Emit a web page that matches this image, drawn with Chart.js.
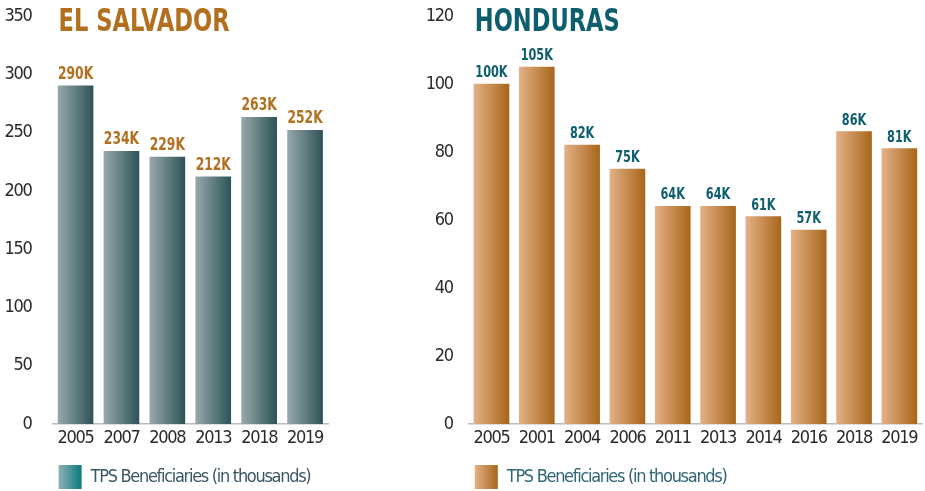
<!DOCTYPE html>
<html>
<head>
<meta charset="utf-8">
<script src="https://cdn.jsdelivr.net/npm/chart.js@4.4.1/dist/chart.umd.min.js"></script>
<style>
  html, body { margin: 0; padding: 0; background: #fff; }
  body { width: 925px; height: 491px; position: relative; overflow: hidden; }
  .box { position: absolute; top: 0; height: 499px; }
  #elBox { left: 0; width: 345px; }
  #hnBox { left: 420px; width: 505px; }
</style>
</head>
<body>
<div class="box" id="elBox"><canvas id="elChart" width="345" height="499"></canvas></div>
<div class="box" id="hnBox"><canvas id="hnChart" width="505" height="499"></canvas></div>
<script>
// El Salvador
const elTitle = "EL SALVADOR";
const elYears = ["2005", "2007", "2008", "2013", "2018", "2019"];
const elValues = [290, 234, 229, 212, 263, 252];
const elMax = 350;
const elStep = 50;

// Honduras
const hnTitle = "HONDURAS";
const hnYears = ["2005", "2001", "2004", "2006", "2011", "2013", "2014", "2016", "2018", "2019"];
const hnValues = [100, 105, 82, 75, 64, 64, 61, 57, 86, 81];
const hnMax = 120;
const hnStep = 20;

const seriesLabel = "TPS Beneficiaries (in thousands)";

const COND = "'DejaVu Sans Condensed', 'Liberation Sans', sans-serif";
const BAR_W = 35;
const TIGHT = "-1.3px";

function barFill(light, dark) {
  return function (c) {
    const chart = c.chart;
    if (!chart.chartArea || c.dataIndex === undefined) return dark;
    const x = chart.scales.x.getPixelForValue(c.dataIndex);
    const g = chart.ctx.createLinearGradient(x - BAR_W / 2, 0, x + BAR_W / 2, 0);
    g.addColorStop(0, light);
    g.addColorStop(1, dark);
    return g;
  };
}

function legendLabels(light, dark, textColor) {
  return function (chart) {
    const left = (chart.chartArea ? chart.chartArea.left : 50) + 6;
    const g = chart.ctx.createLinearGradient(left, 0, left + 23, 0);
    g.addColorStop(0, light);
    g.addColorStop(1, dark);
    return [{
      text: chart.data.datasets[0].label,
      fillStyle: g,
      strokeStyle: "rgba(0,0,0,0)",
      lineWidth: 0,
      fontColor: textColor,
      hidden: false,
      datasetIndex: 0
    }];
  };
}

// tighter letter spacing for ticks and legend (the source uses a condensed face)
const tighten = {
  id: "tighten",
  beforeLayout(chart) { chart.ctx.letterSpacing = TIGHT; },
  beforeDraw(chart) { chart.ctx.letterSpacing = TIGHT; }
};

// title + value labels drawn on the canvas
const decorate = {
  id: "decorate",
  afterDatasetsDraw(chart, args, opts) {
    const ctx = chart.ctx;
    const meta = chart.getDatasetMeta(0);
    const data = chart.data.datasets[0].data;
    ctx.save();
    ctx.letterSpacing = "0px";
    ctx.fillStyle = opts.color;
    ctx.font = "bold " + opts.labelSize + "px " + COND;
    ctx.textAlign = "center";
    ctx.textBaseline = "alphabetic";
    meta.data.forEach((bar, i) => {
      const txt = data[i] + "K";
      ctx.fillText(txt, bar.x, bar.y - 7, ctx.measureText(txt).width * 0.76);
    });
    ctx.textAlign = "left";
    ctx.font = "bold 32px " + COND;
    ctx.fillText(opts.title, chart.chartArea.left + 6, 31, opts.titleWidth);
    ctx.restore();
  }
};

function makeChart(id, cfg) {
  const chart = new Chart(document.getElementById(id), {
    type: "bar",
    data: {
      labels: cfg.labels,
      datasets: [{
        label: seriesLabel,
        data: cfg.values,
        backgroundColor: barFill(cfg.light, cfg.dark),
        borderWidth: 0,
        barThickness: BAR_W
      }]
    },
    options: {
      responsive: false,
      devicePixelRatio: 1,
      animation: false,
      layout: { padding: cfg.padding },
      scales: {
        x: {
          grid: { display: false, drawTicks: false },
          border: { display: true, color: "#b7bec2", width: 1.5 },
          ticks: {
            color: "#2a2a2a", padding: 4, maxRotation: 0, minRotation: 0, autoSkip: false,
            font: { family: COND, size: 18 }
          }
        },
        y: {
          min: 0,
          max: cfg.max,
          grid: { display: false, drawTicks: true, tickLength: cfg.tickGap },
          border: { display: false },
          ticks: { stepSize: cfg.step, color: "#2a2a2a", padding: 0, font: { family: COND, size: 18 } }
        }
      },
      plugins: {
        tooltip: { enabled: false },
        legend: {
          position: "bottom",
          align: "start",
          fullSize: false,
          title: { display: true, text: "", padding: 0, font: { size: 6, lineHeight: "5.4px" } },
          labels: {
            boxWidth: 23,
            boxHeight: 24,
            padding: 6,
            font: { family: COND, size: 18 },
            generateLabels: legendLabels(cfg.legendLight, cfg.legendDark, cfg.legendText)
          }
        },
        decorate: {
          title: cfg.title,
          titleWidth: cfg.titleWidth,
          color: cfg.accent,
          labelSize: cfg.labelSize
        }
      }
    },
    plugins: [tighten, decorate]
  });
  chart.update();
  return chart;
}

makeChart("elChart", {
  labels: elYears,
  values: elValues,
  max: elMax,
  step: elStep,
  title: elTitle,
  titleWidth: 171,
  accent: "#b2701f",
  labelSize: 18,
  light: "#97a8ab",
  dark: "#2d5457",
  legendLight: "#8fb2b5",
  legendDark: "#0a7a81",
  legendText: "#3a5766",
  tickGap: 21,
  padding: { left: 4.6, right: 17, top: 16, bottom: 0 }
});

makeChart("hnChart", {
  labels: hnYears,
  values: hnValues,
  max: hnMax,
  step: hnStep,
  title: hnTitle,
  titleWidth: 145,
  accent: "#0e5f6e",
  labelSize: 16.5,
  light: "#e3b186",
  dark: "#a8661a",
  legendLight: "#e3b186",
  legendDark: "#a8661a",
  legendText: "#2f6676",
  tickGap: 16,
  padding: { left: 5.8, right: 3, top: 16, bottom: 0 }
});
</script>
</body>
</html>
